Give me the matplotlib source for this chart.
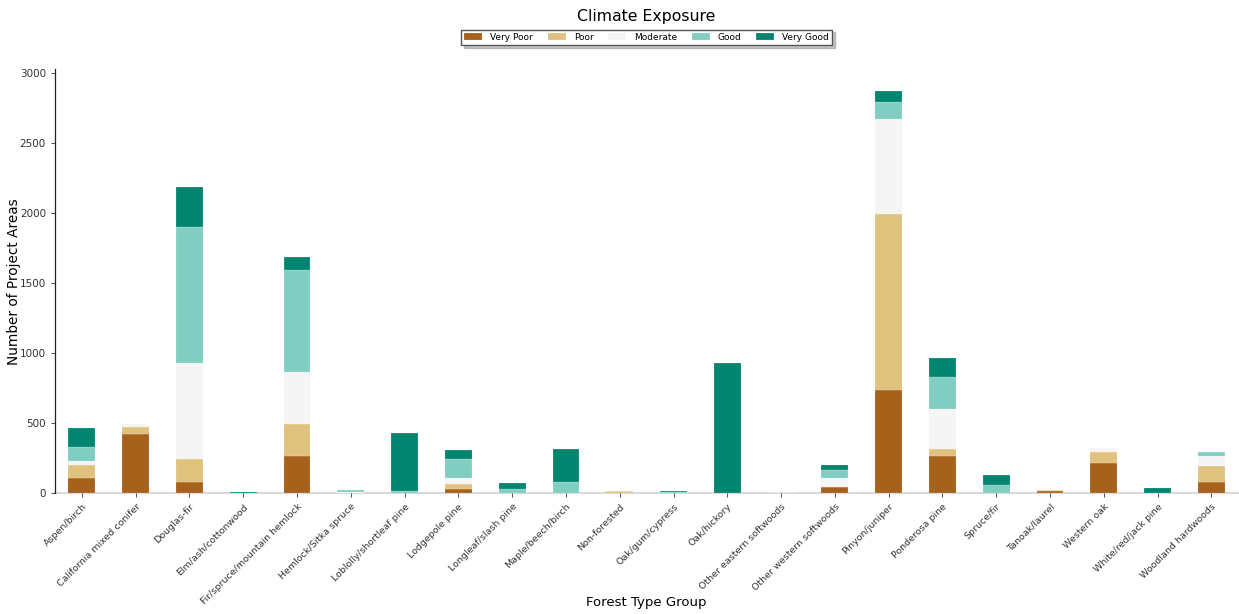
import matplotlib
matplotlib.use("Agg")
import matplotlib.pyplot as plt
import numpy as np
import pandas as pd


forest_types = [
    "Aspen/birch", "California mixed conifer", "Douglas-fir", "Elm/ash/cottonwood",
    "Fir/spruce/mountain hemlock", "Hemlock/Sitka spruce", "Loblolly/shortleaf pine",
    "Lodgepole pine", "Longleaf/slash pine", "Maple/beech/birch", "Non-forested",
    "Oak/gum/cypress", "Oak/hickory", "Other eastern softwoods", "Other western softwoods",
    "Pinyon/juniper", "Ponderosa pine", "Spruce/fir", "Tanoak/laurel", "Western oak",
    "White/red/jack pine", "Woodland hardwoods",
]

very_poor = [105, 424, 78, 0, 265, 0, 0, 31, 0, 0, 3, 0, 0, 0, 43, 739, 263, 0, 14, 211, 0, 81]
poor      = [94, 47, 164, 0, 231, 0, 0, 31, 0, 0, 9, 0, 0, 0, 3, 1250, 48, 0, 5, 81, 0, 111]
moderate  = [31, 25, 687, 0, 371, 5, 0, 43, 0, 0, 0, 0, 0, 0, 63, 682, 291, 0, 0, 30, 0, 73]
good      = [99, 0, 972, 3, 728, 15, 14, 139, 26, 80, 0, 8, 3, 0, 59, 123, 225, 57, 4, 0, 3, 27]
very_good = [135, 0, 284, 6, 90, 0, 415, 60, 47, 231, 0, 10, 928, 0, 31, 76, 138, 73, 0, 0, 30, 0]

classes = ["Very Poor", "Poor", "Moderate", "Good", "Very Good"]
colors = ["#a6611a", "#dfc27d", "#f5f5f5", "#80cdc1", "#018571"]

df = pd.DataFrame(
    {"Very Poor": very_poor, "Poor": poor, "Moderate": moderate,
     "Good": good, "Very Good": very_good},
    index=forest_types,
)

fig = plt.figure(figsize=(12.39, 6.14), dpi=100)
ax = fig.add_axes([0.0444, 0.197, 0.955, 0.690])

x = np.arange(len(df))
bottom = np.zeros(len(df))
for cls, col in zip(classes, colors):
    vals = df[cls].values
    ax.bar(x, vals, bottom=bottom, width=0.5, color=col, label=cls,
           edgecolor="#ffffff80", linewidth=0.25, zorder=3)
    bottom += vals

ax.set_xlim(-0.5, len(df) - 0.5)
ax.set_ylim(0, 3025)
ax.set_yticks([0, 500, 1000, 1500, 2000, 2500, 3000])
ax.set_xticks(x)
ax.set_xticklabels(forest_types, rotation=45, ha="right", rotation_mode="anchor",
                   fontsize=6.8, color="#333333")
ax.tick_params(axis="y", labelsize=7.5, length=3, width=0.6, colors="#333333")
ax.tick_params(axis="x", length=3, width=0.6, colors="#333333")

ax.spines["top"].set_visible(False)
ax.spines["right"].set_visible(False)
ax.spines["left"].set_color("#222222")
ax.spines["left"].set_linewidth(0.9)
ax.spines["bottom"].set_color("#d9d9d9")
ax.spines["bottom"].set_linewidth(1.5)
ax.spines["bottom"].set_zorder(1)

ax.set_xlabel("Forest Type Group", fontsize=9.5)
ax.set_ylabel("Number of Project Areas", fontsize=9.8)
ax.xaxis.set_label_coords(0.5, -0.243)
ax.yaxis.set_label_coords(-0.029, 0.5)
ax.set_title("Climate Exposure", fontsize=11.3, pad=35)

ax.legend(loc="lower center", bbox_to_anchor=(0.5, 1.047), ncol=5, fontsize=6.5,
          frameon=True, shadow={"ox": 2, "oy": -2, "color": "0.55"}, fancybox=False,
          handlelength=2.0, handletextpad=0.9, columnspacing=1.6,
          borderpad=0.35, handleheight=0.7, edgecolor="#555555")

fig.savefig("out.png", dpi=100)
